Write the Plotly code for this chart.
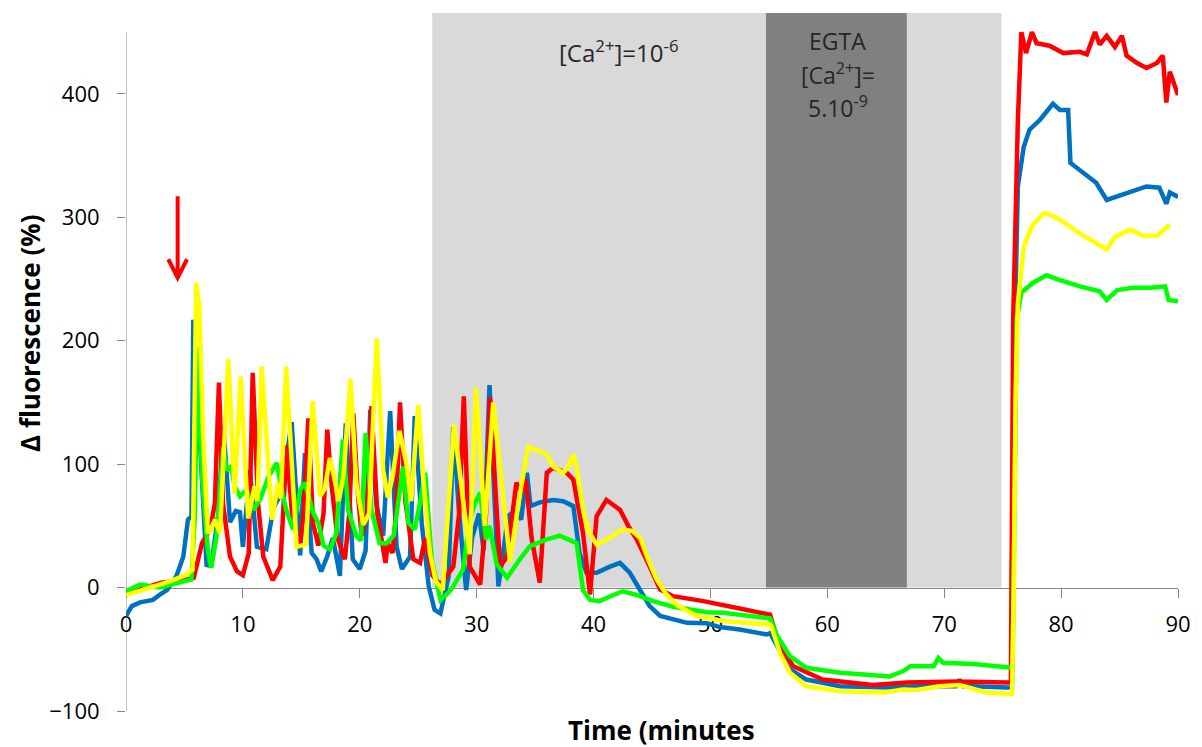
import plotly.graph_objects as go

# ---------------- data (time in minutes, delta fluorescence in %) ----------------
blue_t = [0, 0.5, 1.2, 2.3, 3.0, 3.5, 4.3, 4.9, 5.3, 5.6, 5.76, 6.3, 6.9, 7.4, 7.9, 8.33, 8.9, 9.4, 9.75, 10.0,
          10.6, 11.2, 12.0, 12.6, 13.3, 14.17, 14.9, 15.31, 15.88, 16.3, 16.7, 17.2, 17.7, 18.3, 18.8, 19.4, 20.0,
          20.5, 20.9, 21.4, 22.0, 22.6, 23.15, 23.6, 24.3, 24.7, 25.3, 25.9, 26.4, 26.9, 27.6, 28.0, 28.5, 29.1,
          29.6, 30.2, 30.6, 31.1, 31.86, 32.7, 33.4, 33.8, 34.3, 34.6, 35.4, 36.55, 37.4, 38.27, 38.8, 39.4, 40.26,
          41.4, 42.26, 43.1, 44.0, 44.8, 45.7, 46.8, 48.0, 49.7, 50.8, 52.5, 54.8, 55.1, 55.7, 56.8, 58.2, 61.1,
          65.3, 68.1, 71.0, 71.3, 71.6, 72.4, 75.35, 75.8, 76.05, 76.3, 76.8, 77.3, 78.2, 79.3, 79.9, 80.6, 80.8,
          81.6, 83.0, 83.9, 84.8, 86.2, 87.3, 88.4, 89.0, 89.3, 90.0]
blue_v = [-23, -15, -12, -10, -5, -2, 9, 25, 55, 58, 217, 120, 17, 25, 60, 131, 53, 62, 61, 33,
          95, 33, 31, 64, 77, 134, 26, 109, 28, 23, 13, 25, 40, 9.5, 133, 23, 15,
          30, 144, 68, 42, 143, 33, 15, 25, 139, 52, 1, -18, -21, 9, 130, 60, -2,
          40, 60, 30, 164, 1, 58, 63, 55, 93, 66, 69, 71, 70, 66, 28, 12, 12,
          17, 20, 12, -2, -15, -23, -26, -28.6, -29, -32, -34, -38, -37, -47.5, -66, -74.5, -80,
          -81, -80, -80, -74.5, -80, -80, -81, -81, 217, 325, 357, 371, 379, 392, 387, 387, 344,
          338, 328, 314, 317, 322, 325, 324, 311, 320, 316.5]

red_t = [0, 1, 2, 3, 4, 5, 5.8, 6.0, 6.5, 7.2, 7.6, 7.95, 8.3, 8.9, 9.5, 10.0, 10.5, 10.84, 11.3, 11.75, 12.55,
         13.2, 13.75, 14.2, 14.85, 15.2, 15.6, 16.0, 16.45, 16.9, 17.22, 17.6, 18.1, 18.73, 19.1, 19.45, 19.8,
         20.16, 20.6, 21.0, 21.5, 22.2, 22.4, 22.8, 23.1, 23.44, 23.9, 24.58, 25.15, 25.6, 26.2, 26.9, 28.0,
         28.5, 28.9, 29.4, 30.3, 30.8, 31.14, 32.0, 32.6, 33.4, 33.8, 34.2, 34.7, 35.4, 36.0, 36.55, 37.7,
         38.27, 39.1, 39.7, 40.26, 41.1, 42.26, 42.97, 43.7, 44.8, 45.7, 46.8, 49.4, 52.5, 54.8, 55.1, 55.9,
         57.1, 59.6, 63.9, 66.8, 71.1, 75.35, 75.7, 75.9, 76.3, 76.6, 77.0, 77.5, 77.9, 79.0, 80.2, 81.6,
         82.2, 82.9, 83.3, 83.9, 84.6, 85.2, 85.6, 86.5, 87.3, 88.2, 88.7, 89.0, 89.3, 90.0]
red_v = [-5, -2, 1, 4, 5, 6, 8, 15, 36, 47, 68, 166, 68, 25, 13, 10, 28, 174, 68, 25, 6,
         17, 115, 60, 32, 60, 137, 52, 34, 60, 128, 82, 40, 23, 60, 141, 80,
         42, 60, 147, 60, 20, 36, 28, 60, 150, 70, 23, 20, 40, 10, 2.4, 17,
         60, 155, 17, 2.4, 60, 154, 17, 25, 85, 77, 87.5, 40, 4, 93, 97, 93,
         87.5, 44, -5.7, 57.7, 71, 63, 50, 39, 17, -1.6, -7, -11, -17, -22, -22, -47.5,
         -63.7, -74.5, -79, -77, -76, -77, -77, 217, 379, 450, 433, 450, 441, 439, 433, 434,
         432, 450, 440, 447, 438, 447, 431, 425, 421, 425, 431, 393, 418, 399]

green_t = [0, 1.2, 2.9, 4.6, 5.6, 5.9, 6.1, 6.5, 7.0, 7.3, 7.75, 8.33, 8.6, 9.0, 9.3, 9.75, 10.3, 10.9, 11.5,
           12.2, 12.9, 13.2, 13.7, 14.3, 14.9, 15.3, 16.0, 16.45, 16.9, 17.45, 18.0, 18.55, 19.0, 19.7, 20.1,
           20.5, 21.0, 21.7, 22.3, 22.9, 23.7, 24.15, 24.7, 25.15, 25.6, 26.15, 26.9, 27.6, 28.0, 28.85, 29.4,
           29.85, 30.3, 30.8, 31.1, 31.7, 32.6, 33.7, 34.56, 36.0, 37.1, 38.55, 39.1, 39.7, 40.5, 41.7, 42.5,
           43.7, 45.1, 46.8, 49.7, 51.1, 54.8, 55.1, 55.7, 56.8, 58.2, 61.1, 65.35, 66.5, 67.1, 69.1, 69.5,
           69.9, 72.5, 75.35, 75.85, 76.2, 76.6, 77.6, 78.75, 79.9, 81.6, 83.3, 83.9, 84.8, 86.2, 87.6, 88.9,
           89.2, 90.0]
green_v = [-3, 2.4, 0, 4, 6.5, 60, 195, 90, 30, 16, 42, 114, 95, 98, 82, 74, 79, 63, 72,
           90, 101, 85, 63, 47, 79, 85, 61, 52.5, 34, 31, 44, 120, 63, 42, 38,
           125, 63, 36, 36, 42, 98, 52.5, 47, 68.5, 93, 23, -10, -4, 1, 15, 55,
           68, 77, 39, 50, 19, 8, 23, 33.5, 39, 42, 36, -2, -10, -11, -6, -3,
           -6, -11, -15.5, -20, -20.5, -24, -25, -39, -55.6, -65, -69, -72, -67.7, -63.7, -63.7, -57,
           -61, -62, -65, -65, 217, 239, 247, 253, 249, 244, 240, 233, 241, 243, 243, 244,
           233, 232]

yellow_t = [0, 1, 2.3, 3.76, 5.2, 5.7, 6.0, 6.27, 6.6, 7.0, 7.3, 7.6, 8.04, 8.75, 9.3, 9.8, 10.45, 11.0,
            11.25, 11.6, 12.5, 13.0, 13.25, 13.7, 14.6, 15.4, 15.97, 16.6, 17.0, 17.45, 17.8, 18.2, 18.6,
            19.2, 19.7, 20.3, 20.8, 21.45, 22.0, 22.4, 22.8, 23.4, 24.0, 24.4, 25.0, 25.5, 26.0, 26.5, 27.1,
            28.06, 29.4, 29.94, 30.7, 31.42, 32.85, 33.6, 34.4, 35.0, 35.55, 36.0, 36.55, 37.4, 37.8, 38.27,
            38.6, 39.1, 39.6, 40.26, 41.0, 42.4, 43.3, 44.0, 44.7, 45.4, 46.2, 47.1, 48.8, 51.1, 55.1, 55.2,
            55.95, 56.8, 58.2, 61.1, 64.8, 66.5, 67.6, 69.6, 71.3, 73.05, 73.6, 75.5, 75.8, 75.95, 76.1,
            76.3, 76.8, 77.5, 78.5, 78.8, 79.9, 81.6, 83.0, 83.9, 84.6, 85.9, 87.0, 88.2, 89.3]
yellow_v = [-6, -3, 0, 5, 10.5, 14.6, 247, 228, 122, 44, 48, 55, 44, 185, 76, 171, 56, 82,
            70, 179, 55, 85, 72, 179, 33, 35, 151, 74, 80, 105, 90, 70, 90,
            169, 85, 51, 60, 202, 95, 73, 90, 127, 100, 70, 148, 80, 28, 5, -2,
            132, 27, 162, 50, 150, 21, 70, 114, 112, 110, 108, 98, 93, 97, 108,
            95, 63, 45, 35, 38, 47, 46, 40, 22, 6.5, -5, -14, -23, -27, -30, -31,
            -53, -69, -80, -84, -85, -82.6, -83, -80, -79, -83, -85, -86, -86, 0, 150,
            230, 276, 293, 303, 303, 298, 287, 279, 274, 284, 290, 285, 285, 294]

x_ticks = [0, 10, 20, 30, 40, 50, 60, 70, 80, 90]
y_ticks = [-100, 0, 100, 200, 300, 400]

ca_period = [26.2, 74.9]      # [Ca2+]=10^-6 window
egta_period = [54.75, 66.8]   # EGTA window
stim_time = 4.42              # red arrow (stimulus)

egta_lines = ["EGTA", "[Ca<sup>2+</sup>]=", "5.10<sup>-9</sup>"]

# ---------------- figure ----------------
Y_MIN, Y_TOP, Y_AXIS_END = -100, 465.5, 450

fig = go.Figure()

series = [
    (blue_t, blue_v, "#0070C0"),
    (red_t, red_v, "#FF0000"),
    (green_t, green_v, "#00FF00"),
    (yellow_t, yellow_v, "#FFFF00"),
]
for t, v, c in series:
    fig.add_trace(go.Scatter(x=t, y=v, mode="lines", line=dict(color=c, width=4.5),
                             showlegend=False, hoverinfo="skip"))

shapes = [
    dict(type="rect", xref="x", yref="y", x0=ca_period[0], x1=ca_period[1], y0=0, y1=Y_TOP,
         fillcolor="#D9D9D9", line=dict(width=0), layer="below"),
    dict(type="rect", xref="x", yref="y", x0=egta_period[0], x1=egta_period[1], y0=0, y1=Y_TOP,
         fillcolor="#808080", line=dict(width=0), layer="below"),
    dict(type="line", xref="x", yref="y", x0=0, x1=0, y0=Y_MIN, y1=Y_AXIS_END,
         line=dict(color="#868686", width=1), layer="below"),
    # red stimulus arrow
    dict(type="path", xref="x", yref="y",
         path=f"M {stim_time},317 L {stim_time},251 M {stim_time-0.8},266 L {stim_time},251 L {stim_time+0.8},266",
         line=dict(color="#FF0000", width=4), layer="above"),
]

txt_font = dict(family="Open Sans", size=23, color="#262626")
annotations = [
    dict(x=(ca_period[0] + egta_period[0]) / 2 + 1.7, y=434, xref="x", yref="y",
         text="[Ca<sup>2+</sup>]=10<sup>-6</sup>", showarrow=False,
         font=dict(family="Open Sans", size=24, color="#262626"),
         xanchor="center", yanchor="middle"),
    dict(x=-0.0913, y=0.5415, xref="paper", yref="paper", textangle=-90,
         xanchor="center", yanchor="middle",
         text="<b>Δ fluorescence (%)</b>", showarrow=False,
         font=dict(family="Open Sans", size=26, color="#000000")),
    dict(x=0.5095, y=-0.027, xref="paper", yref="paper", xanchor="center", yanchor="middle",
         text="<b>Time (minutes</b>", showarrow=False,
         font=dict(family="Open Sans", size=26, color="#000000")),
]
for line_text, yv in zip(egta_lines, [443, 416, 389]):
    annotations.append(dict(x=(egta_period[0] + egta_period[1]) / 2 + 0.1, y=yv, xref="x", yref="y",
                            text=line_text, showarrow=False, font=txt_font,
                            xanchor="center", yanchor="middle"))

tick_font = dict(family="Open Sans", size=22, color="#000000")
fig.update_layout(
    width=1202, height=747,
    margin=dict(l=126, r=24, t=13, b=36),
    paper_bgcolor="white", plot_bgcolor="white",
    shapes=shapes, annotations=annotations,
    xaxis=dict(range=[0, 90], tickvals=x_ticks, showgrid=False, zeroline=False,
               showline=True, linecolor="#868686", linewidth=1,
               ticks="outside", ticklen=9, tickcolor="#868686",
               anchor="free", position=(0 - Y_MIN) / (Y_TOP - Y_MIN),
               tickfont=tick_font, ticklabelstandoff=8, layer="below traces"),
    yaxis=dict(range=[Y_MIN, Y_TOP], tickvals=y_ticks, showgrid=False, zeroline=False,
               showline=False, ticks="outside", ticklen=8, tickcolor="#868686",
               tickfont=tick_font, ticklabelstandoff=13, layer="below traces"),
)

fig.write_html("out.html")
